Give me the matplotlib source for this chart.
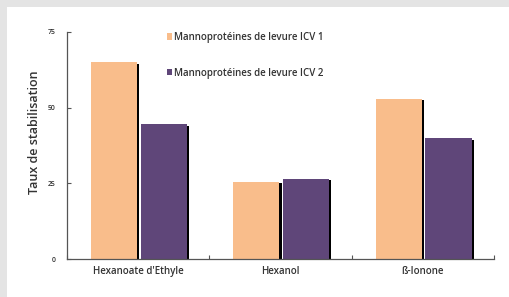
import matplotlib
matplotlib.use("Agg")
import matplotlib.pyplot as plt
import matplotlib.patches as mpatches
import matplotlib.patheffects as pe
import numpy as np

categories = ["Hexanoate d'Ethyle", "Hexanol", "ß-Ionone"]
series_names = ["Mannoprotéines de levure ICV 1", "Mannoprotéines de levure ICV 2"]
icv1 = [65, 25.5, 53]
icv2 = [44.5, 26.5, 40]
yticks = [0, 25, 50, 75]

colors = ["#F9BD8B", "#5F4679"]

W, H = 510, 297
fig = plt.figure(figsize=(W / 100, H / 100), dpi=100)
fig.patch.set_facecolor("#E4E4E4")
# white panel
fig.patches.append(mpatches.Rectangle((7 / W, 0), 1, 1 - 7 / H, transform=fig.transFigure,
                                      facecolor="white", edgecolor="none", zorder=-5))

ax = fig.add_axes([67 / W, 38 / H, (494 - 67) / W, (259 - 32) / H])
ax.set_zorder(2)
ax.set_facecolor("none")

x = np.arange(len(categories))
width = 0.325
shadow = [pe.SimplePatchShadow(offset=(1.6, -1.2), shadow_rgbFace="black", alpha=1.0), pe.Normal()]
b1 = ax.bar(x - 0.17, icv1, width, color=colors[0], zorder=3)
b2 = ax.bar(x + 0.18, icv2, width, color=colors[1], zorder=3)
for b in list(b1) + list(b2):
    b.set_path_effects(shadow)

ax.set_xlim(-0.5, len(categories) - 0.5)
ax.set_ylim(0, 75)
ax.set_yticks(yticks)
ax.set_yticklabels([str(v) for v in yticks])
ax.set_xticks(x)
ax.set_xticklabels(categories)
ax.set_xticks(np.arange(len(categories) + 1) - 0.5, minor=True)

font = "Open Sans"
for lbl in ax.get_yticklabels():
    lbl.set_fontsize(5)
    lbl.set_family(font)
    lbl.set_weight("semibold")
    lbl.set_color("#333333")
for lbl in ax.get_xticklabels():
    lbl.set_fontsize(7)
    lbl.set_family(font)
    lbl.set_weight("semibold")
    lbl.set_color("#333333")

ax.tick_params(axis="x", which="major", length=0, pad=5)
ax.tick_params(axis="x", which="minor", length=3, direction="in", color="#555555", width=0.8)
ax.tick_params(axis="y", length=3, direction="in", color="#555555", width=0.8, pad=8)

for s in ["top", "right"]:
    ax.spines[s].set_visible(False)
for s in ["left", "bottom"]:
    ax.spines[s].set_color("#555555")
    ax.spines[s].set_linewidth(0.9)
ax.spines["bottom"].set_zorder(4)

ax.set_ylabel("Taux de stabilisation", fontsize=9, family=font, weight="semibold",
              color="#333333")
ax.yaxis.set_label_coords(-0.062, 0.56)

handles = [mpatches.Patch(facecolor=c, edgecolor="none") for c in colors]
fig.legend(handles, series_names, loc="upper left", bbox_to_anchor=(163 / W, 1 - 28 / H),
           frameon=False, prop={"family": font, "size": 7, "weight": "semibold"},
           handlelength=0.5, handleheight=0.6, handletextpad=0.25, labelspacing=2.55,
           labelcolor="#333333", borderaxespad=0)

fig.savefig("out.png", dpi=100)
